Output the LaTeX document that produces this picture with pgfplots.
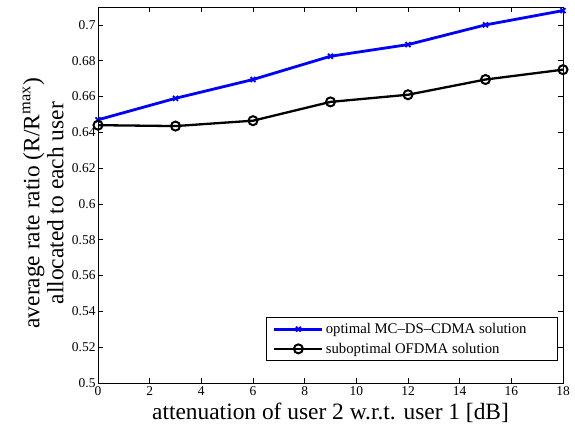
\documentclass[border=0pt]{standalone}
\usepackage{fontspec}
\setmainfont{Liberation Serif}
\usepackage{pgfplots}
\pgfplotsset{compat=1.18}
\begin{document}
\begin{tikzpicture}
\begin{axis}[
  name=ax,
  scale only axis,
  width=465bp, height=376bp,
  xmin=0, xmax=18, ymin=0.5, ymax=0.71,
  xtick={0,2,...,18},
  ytick={0.5,0.52,...,0.705},
  /pgf/number format/fixed,
  /pgf/number format/precision=2,
  /pgf/number format/assume math mode=true,
  tick align=inside,
  major tick length=5bp,
  tick style={black, line width=0.6bp},
  axis line style={line width=0.8bp},
  ticklabel style={font=\fontsize{13.5}{15}\selectfont},
  yticklabel style={xshift=1bp},
  xticklabel style={yshift=0bp},
  xlabel={attenuation of user 2 w.r.t. user 1 [dB]},
  xlabel style={font=\fontsize{23.5}{26}\selectfont, at={(axis description cs:0.5,-0.08)}, anchor=center},
  ylabel={average rate ratio (R/R\textsuperscript{max})\\allocated to each user},
  ylabel style={font=\fontsize{23.5}{24}\selectfont, align=center, at={(axis description cs:-0.118,0.478)}, anchor=center, rotate=0},
  legend style={at={(rel axis cs:0.989,0.0585)}, anchor=south east, draw=black, line width=0.6bp,
    font=\fontsize{14.8}{16}\selectfont, inner xsep=7bp, inner ysep=4bp, row sep=4bp,
    cells={anchor=west}},
  legend image code/.code={\draw[mark repeat=2,mark phase=2] plot coordinates {(0cm,0cm) (0.85cm,0cm) (1.7cm,0cm)};},
]
\addplot[blue, line width=2.8bp, mark=x, mark size=3.5bp, mark options={line width=1.8bp}]
  coordinates {(0,0.647) (3,0.659) (6,0.6695) (9,0.6825) (12,0.689) (15,0.700) (18,0.708)};
\addlegendentry{optimal MC--DS--CDMA solution\rule{22bp}{0bp}}
\addplot[black, line width=2.3bp, mark=o, mark size=4.5bp, mark options={line width=2bp}]
  coordinates {(0,0.644) (3,0.6435) (6,0.6465) (9,0.657) (12,0.661) (15,0.6695) (18,0.675)};
\addlegendentry{suboptimal OFDMA solution}
\end{axis}
\pgfresetboundingbox
\path[use as bounding box] ([shift={(-98bp,-45bp)}]ax.south west) rectangle ([shift={(12bp,7bp)}]ax.north east);
\end{tikzpicture}
\end{document}
